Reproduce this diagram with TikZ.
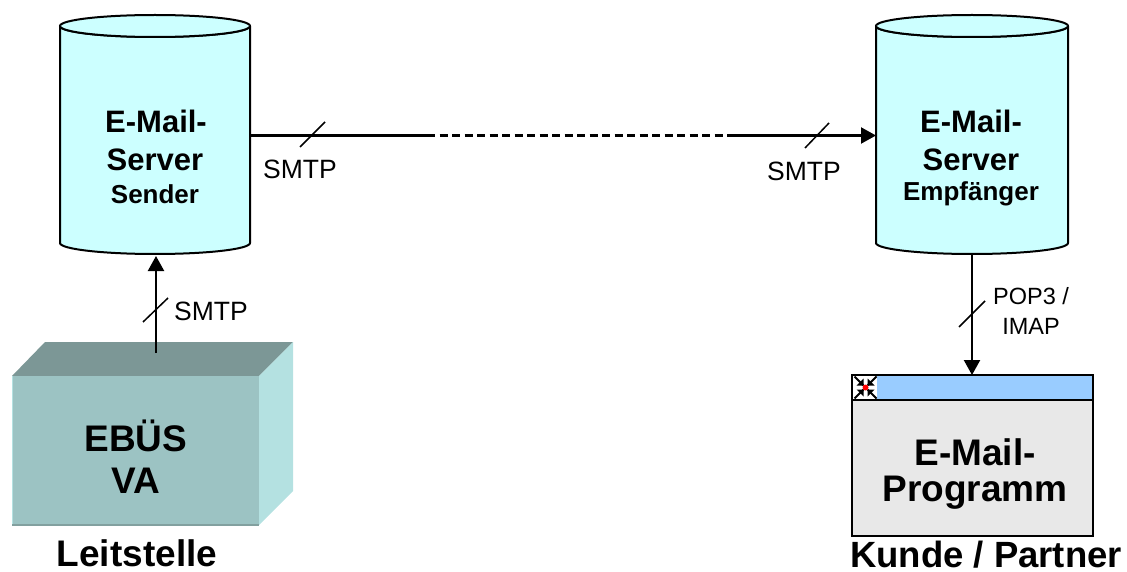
\documentclass[tikz,border=0pt]{standalone}
\usepackage{fontspec}
\setmainfont{Liberation Sans}
\usetikzlibrary{arrows.meta}
\definecolor{cyl}{HTML}{CCFFFF}
\definecolor{boxf}{HTML}{9CC3C3}
\definecolor{boxt}{HTML}{7C9796}
\definecolor{boxs}{HTML}{B4E1E1}
\definecolor{barc}{HTML}{99CCFF}
\definecolor{win}{HTML}{E8E8E8}
\tikzset{
  x=1pt,y=-1pt,
  cylbody/.style={fill=cyl,draw=black,line width=2pt},
  wire/.style={draw=black,line width=2.2pt},
  arr/.style={wire,-{Triangle[length=15pt,width=16pt]}},
  tick/.style={draw=black,line width=1.5pt},
  lab/.style={inner sep=0pt,font=\fontsize{26.5}{33}\selectfont,align=center},
  labsm/.style={inner sep=0pt,font=\fontsize{23.5}{30}\selectfont,align=center},
  big/.style={inner sep=0pt,font=\fontsize{37}{40}\selectfont\bfseries},
  captiontext/.style={inner sep=0pt,font=\fontsize{36.5}{40}\selectfont\bfseries},
  mid/.style={inner sep=0pt,font=\fontsize{31}{36}\selectfont\bfseries},
  small/.style={inner sep=0pt,font=\fontsize{26}{30}\selectfont\bfseries},
}
\begin{document}
\begin{tikzpicture}
\useasboundingbox (0,0) rectangle (1127,572);
% left cylinder
\path[cylbody] (60,26) -- (60,243) arc[start angle=180,end angle=360,x radius=95,y radius=-11] -- (250,26) arc[start angle=0,end angle=360,x radius=95,y radius=-11];
\path[cylbody] (60,26) arc[start angle=180,end angle=360,x radius=95,y radius=-11];
\coordinate (s1r) at (251,135.5);
\coordinate (s1b) at (156,256);
\node[mid] (s1a) at (156,121) {E-Mail-};
\node[mid] (s1c) at (155,160) {Server};
\node[small] (s1d) at (155,194) {Sender};
% right cylinder
\path[cylbody] (876,26) -- (876,243) arc[start angle=180,end angle=360,x radius=96,y radius=-11] -- (1068,26) arc[start angle=0,end angle=360,x radius=96,y radius=-11];
\path[cylbody] (876,26) arc[start angle=180,end angle=360,x radius=96,y radius=-11];
\coordinate (s2l) at (876,135.5);
\coordinate (s2b) at (972,254);
\node[mid] (s2a) at (971,121) {E-Mail-};
\node[mid] (s2c) at (971,160) {Server};
\node[small] (s2d) at (971,194) {Empfänger};
% box
\fill[boxt] (12,376) -- (45,342) -- (293,342) -- (259,376) -- cycle;
\fill[boxs] (259,376) -- (293,342) -- (293,491) -- (259,525) -- cycle;
\fill[boxf] (12,376) rectangle (259,525);
\draw[boxs,line width=1pt] (12,376) -- (12,524);
\draw[boxt!80!boxf,line width=1.2pt] (12,525) -- (259,525);
\node[big] (ebus) at (136,436) {EBÜS};
\node[big] (va) at (136,481) {VA};
\coordinate (boxtop) at (156,353);
% window
\fill[barc] (852,375) rectangle (1093,400);
\fill[win] (852,400) rectangle (1093,536);
\draw[black,line width=2pt] (852,375) rectangle (1093,536);
\draw[black,line width=1.5pt] (852,400) -- (1093,400);
\fill[white] (853,376) rectangle (877,399);
\foreach \sx/\sy in {1/1,1/-1,-1/1,-1/-1}{
  \draw[black,line width=2pt] (865.5+\sx*2,387.5+\sy*2) -- (865.5+\sx*11,387.5+\sy*11);
  \fill[black] (865.5+\sx*2,387.5+\sy*2) -- (865.5+\sx*9,387.5+\sy*2) -- (865.5+\sx*2,387.5+\sy*9) -- cycle;
}
\fill[red] (865.5,387.5) circle[radius=3];
\coordinate (wintop) at (972,375);
\node[big] (proga) at (975,452) {E-Mail-};
\node[big] (progb) at (975,493) {Programm};
% captions
\node[big] (c1) at (137,553) {Leitstelle};
\node[captiontext] (c2) at (986,555) {Kunde / Partner};
% connectors
\coordinate (d1) at (427,135.5);
\coordinate (d2) at (730,135.5);
\draw[wire] (s1r) -- (d1);
\draw[wire,dash pattern=on 8pt off 4.5pt] (d1) -- (d2);
\draw[arr] (d2) -- (s2l);
\draw[arr] (boxtop) -- (s1b);
\draw[arr] (s2b) -- (wintop);
% ticks
\draw[tick] (300,147) -- (325,122);
\draw[tick] (805,148) -- (829,123);
\draw[tick] (143,322) -- (168,298);
\draw[tick] (959,327) -- (985,301);
% labels
\node[lab] (l1) at (300,169) {SMTP};
\node[lab] (l2) at (804,171) {SMTP};
\node[lab] (l3) at (211,311) {SMTP};
\node[labsm] (l4) at (1031,311) {POP3 /\\IMAP};
\end{tikzpicture}
\end{document}
